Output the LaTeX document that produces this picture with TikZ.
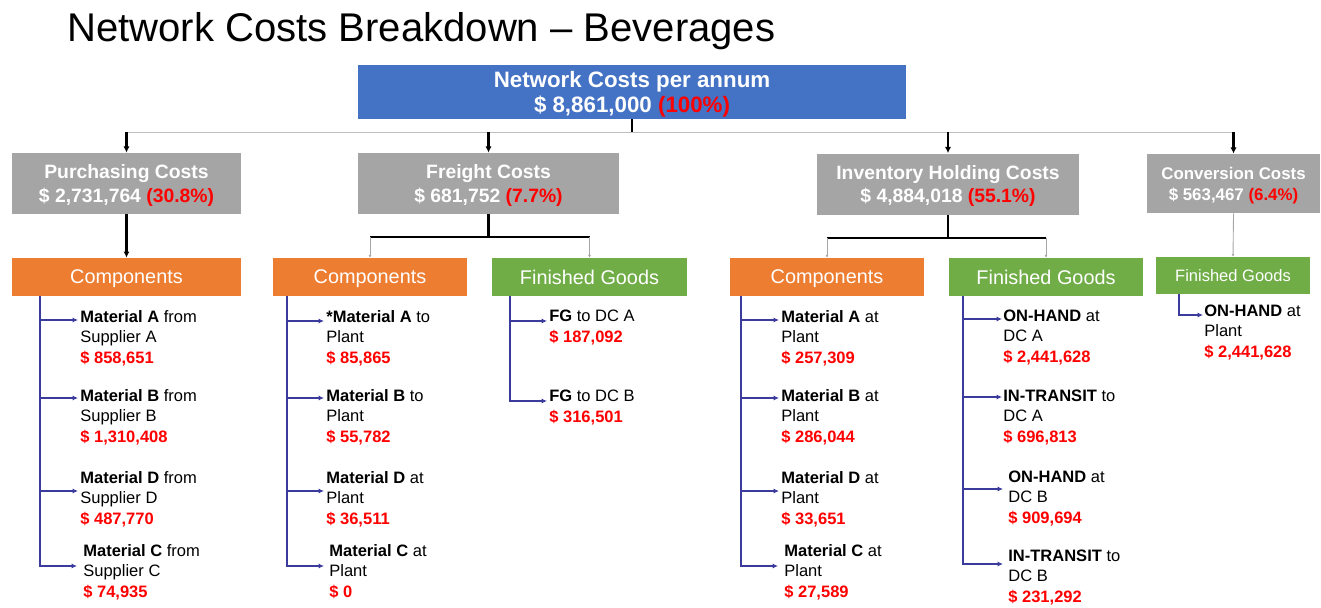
\documentclass[tikz,border=0pt]{standalone}
\usepackage{fontspec}
\setmainfont{Liberation Sans}
\usetikzlibrary{positioning, arrows.meta, calc}

\definecolor{topblue}{HTML}{4472C4}
\definecolor{catgray}{HTML}{A5A5A5}
\definecolor{comporange}{HTML}{ED7D31}
\definecolor{fggreen}{HTML}{70AD47}
\definecolor{costred}{HTML}{FF0000}
\definecolor{leafblue}{HTML}{3B3B9E}

\newcommand{\pu}{0.02cm}
\newcommand{\cost}[1]{{\color{costred}\bfseries\$ #1}}

\begin{document}
\begin{tikzpicture}[
    x=\pu, y=-\pu,
    base/.style={rectangle, align=center, inner sep=0pt, text=white, text depth=0pt},
    total/.style={base, fill=topblue, minimum width=548*\pu, minimum height=54*\pu, font=\bfseries\fontsize{12.7}{14.2}\selectfont},
    cat/.style={base, fill=catgray, minimum height=61*\pu, font=\bfseries\fontsize{11}{13.1}\selectfont},
    comp/.style={base, fill=comporange, minimum height=38*\pu, font=\fontsize{11.3}{13}\selectfont},
    fg/.style={base, fill=fggreen, minimum height=38*\pu, font=\fontsize{11.3}{13}\selectfont},
    leaf/.style={align=left, inner sep=0pt, anchor=base west, font=\fontsize{9.4}{11.4}\selectfont},
    bus/.style={draw=black!25, line width=0.6pt},
    trunk/.style={draw=black, line width=1.2pt},
    down/.style={trunk, -{Latex[length=3.5pt, width=3.5pt]}},
    thindown/.style={draw=black!35, line width=0.5pt, -{Latex[length=1.6pt, width=1.8pt]}},
    leafarrow/.style={draw=leafblue, line width=1.1pt, -{Latex[length=3pt, width=2.8pt]}}
]
    \useasboundingbox (0,0) rectangle (1321,608);

    % --- TITLE ---
    \node (title) [anchor=base west, inner sep=0pt, font=\fontsize{22.8}{26}\selectfont] at (67,42) {Network Costs Breakdown – Beverages};

    % --- TOTAL ---
    \node (net) [total] at (632,92) {Network Costs per annum\\\$ 8,861,000 {\color{costred}(100\%)}};

    % --- COST CATEGORIES ---
    \node (purch) [cat, minimum width=229*\pu] at (126.5,183.5) {Purchasing Costs\\\$ 2,731,764 {\color{costred}(30.8\%)}};
    \node (freight) [cat, minimum width=261*\pu] at (488.5,183.5) {Freight Costs\\\$ 681,752 {\color{costred}(7.7\%)}};
    \node (inv) [cat, minimum width=262*\pu] at (948,184) {Inventory Holding Costs\\\$ 4,884,018 {\color{costred}(55.1\%)}};
    \node (conv) [cat, minimum width=173*\pu, minimum height=59*\pu, font=\bfseries\fontsize{9.6}{12}\selectfont] at (1233.5,183.5) {Conversion Costs\\\$ 563,467 {\color{costred}(6.4\%)}};

    % --- SUB-GROUPS ---
    \node (pcomp) [comp, minimum width=229*\pu] at (126.5,277) {Components};
    \node (fcomp) [comp, minimum width=194*\pu] at (370,277) {Components};
    \node (ffg) [fg, minimum width=195*\pu] at (589.5,277) {Finished Goods};
    \node (icomp) [comp, minimum width=194*\pu] at (827,277) {Components};
    \node (ifg) [fg, minimum width=194*\pu] at (1046,277) {Finished Goods};
    \node (cfg) [fg, minimum width=154*\pu, minimum height=37*\pu, font=\fontsize{9.4}{11}\selectfont] at (1233,275.5) {Finished Goods};

    % --- LEAVES: PURCHASING (placed on the last baseline) ---
    \node (pa) [leaf] at (80,363) {\textbf{Material A} from\\Supplier A\\\cost{858,651}};
    \node (pb) [leaf] at (80,442) {\textbf{Material B} from\\Supplier B\\\cost{1,310,408}};
    \node (pd) [leaf] at (80,524) {\textbf{Material D} from\\Supplier D\\\cost{487,770}};
    \node (pc) [leaf] at (83,597) {\textbf{Material C} from\\Supplier C\\\cost{74,935}};

    % --- LEAVES: FREIGHT ---
    \node (fa) [leaf] at (326,363) {\textbf{*Material A} to\\Plant\\\cost{85,865}};
    \node (fb) [leaf] at (326,442) {\textbf{Material B} to\\Plant\\\cost{55,782}};
    \node (fd) [leaf] at (326,524) {\textbf{Material D} at\\Plant\\\cost{36,511}};
    \node (fc) [leaf] at (329,597) {\textbf{Material C} at\\Plant\\\cost{0}};
    \node (ffa) [leaf] at (549,342) {\textbf{FG} to DC A\\\cost{187,092}};
    \node (ffb) [leaf] at (549,422) {\textbf{FG} to DC B\\\cost{316,501}};

    % --- LEAVES: INVENTORY ---
    \node (ia) [leaf] at (781,363) {\textbf{Material A} at\\Plant\\\cost{257,309}};
    \node (ib) [leaf] at (781,442) {\textbf{Material B} at\\Plant\\\cost{286,044}};
    \node (id) [leaf] at (781,524) {\textbf{Material D} at\\Plant\\\cost{33,651}};
    \node (ic) [leaf] at (784,597) {\textbf{Material C} at\\Plant\\\cost{27,589}};
    \node (ga) [leaf] at (1003,362) {\textbf{ON-HAND} at\\DC A\\\cost{2,441,628}};
    \node (gb) [leaf] at (1003,442) {\textbf{IN-TRANSIT} to\\DC A\\\cost{696,813}};
    \node (gc) [leaf] at (1008,523) {\textbf{ON-HAND} at\\DC B\\\cost{909,694}};
    \node (gd) [leaf] at (1008,602) {\textbf{IN-TRANSIT} to\\DC B\\\cost{231,292}};

    % --- LEAVES: CONVERSION ---
    \node (ca) [leaf] at (1204,357) {\textbf{ON-HAND} at\\Plant\\\cost{2,441,628}};

    % --- TOP CONNECTIONS ---
    \draw [trunk] (net.south) -- ++(0,13) coordinate (hub);
    \draw [bus] (hub -| purch) -- (hub -| conv);
    \draw [down] (hub -| purch) -- (purch.north);
    \draw [down] (hub -| freight) -- (freight.north);
    \draw [down] (hub -| inv) -- (inv.north);
    \draw [down] (hub -| conv) -- (conv.north);

    % --- CATEGORY TO SUB-GROUPS ---
    \draw [down] (purch.south) -- (pcomp.north);

    \draw [trunk] (freight.south) -- ++(0,23) coordinate (fsplit);
    \draw [trunk] (fsplit -| fcomp) -- (fsplit -| ffg);
    \draw [thindown] (fsplit -| fcomp) -- (fcomp.north);
    \draw [thindown] (fsplit -| ffg) -- (ffg.north);

    \draw [trunk] (inv.south) -- ++(0,23) coordinate (isplit);
    \draw [trunk] (isplit -| icomp) -- (isplit -| ifg);
    \draw [thindown] (isplit -| icomp) -- (icomp.north);
    \draw [thindown] (isplit -| ifg) -- (ifg.north);

    \draw [thindown] (conv.south) -- (cfg.north);

    % --- LEAF BRANCHES ---
    \coordinate (ptrunk) at ($(pcomp.south west)+(28,0)$);
    \draw [leafarrow] (ptrunk) |- ($(pa.base west)+(-2,-43)$);
    \draw [leafarrow] (ptrunk) |- ($(pb.base west)+(-2,-44)$);
    \draw [leafarrow] (ptrunk) |- ($(pd.base west)+(-2,-33)$);
    \draw [leafarrow] (ptrunk) |- ($(pc.base west)+(-6,-31)$);

    \coordinate (ftrunk) at ($(fcomp.south west)+(14,0)$);
    \draw [leafarrow] (ftrunk) |- ($(fa.base west)+(-2,-42)$);
    \draw [leafarrow] (ftrunk) |- ($(fb.base west)+(-2,-44)$);
    \draw [leafarrow] (ftrunk) |- ($(fd.base west)+(-2,-33)$);
    \draw [leafarrow] (ftrunk) |- ($(fc.base west)+(-5,-31)$);

    \coordinate (fgtrunk) at ($(ffg.south west)+(18,0)$);
    \draw [leafarrow] (fgtrunk) |- ($(ffa.base west)+(-2,-21)$);
    \draw [leafarrow] (fgtrunk) |- ($(ffb.base west)+(-2,-21)$);

    \coordinate (itrunk) at ($(icomp.south west)+(11,0)$);
    \draw [leafarrow] (itrunk) |- ($(ia.base west)+(-2,-43)$);
    \draw [leafarrow] (itrunk) |- ($(ib.base west)+(-2,-44)$);
    \draw [leafarrow] (itrunk) |- ($(id.base west)+(-2,-33)$);
    \draw [leafarrow] (itrunk) |- ($(ic.base west)+(-6,-31)$);

    \coordinate (gtrunk) at ($(ifg.south west)+(14,0)$);
    \draw [leafarrow] (gtrunk) |- ($(ga.base west)+(-1,-43)$);
    \draw [leafarrow] (gtrunk) |- ($(gb.base west)+(-1,-45)$);
    \draw [leafarrow] (gtrunk) |- ($(gc.base west)+(-5,-34)$);
    \draw [leafarrow] (gtrunk) |- ($(gd.base west)+(-5,-38)$);

    \coordinate (ctrunk) at ($(cfg.south west)+(23,0)$);
    \draw [leafarrow] (ctrunk) |- ($(ca.base west)+(-1,-42)$);

\end{tikzpicture}
\end{document}
